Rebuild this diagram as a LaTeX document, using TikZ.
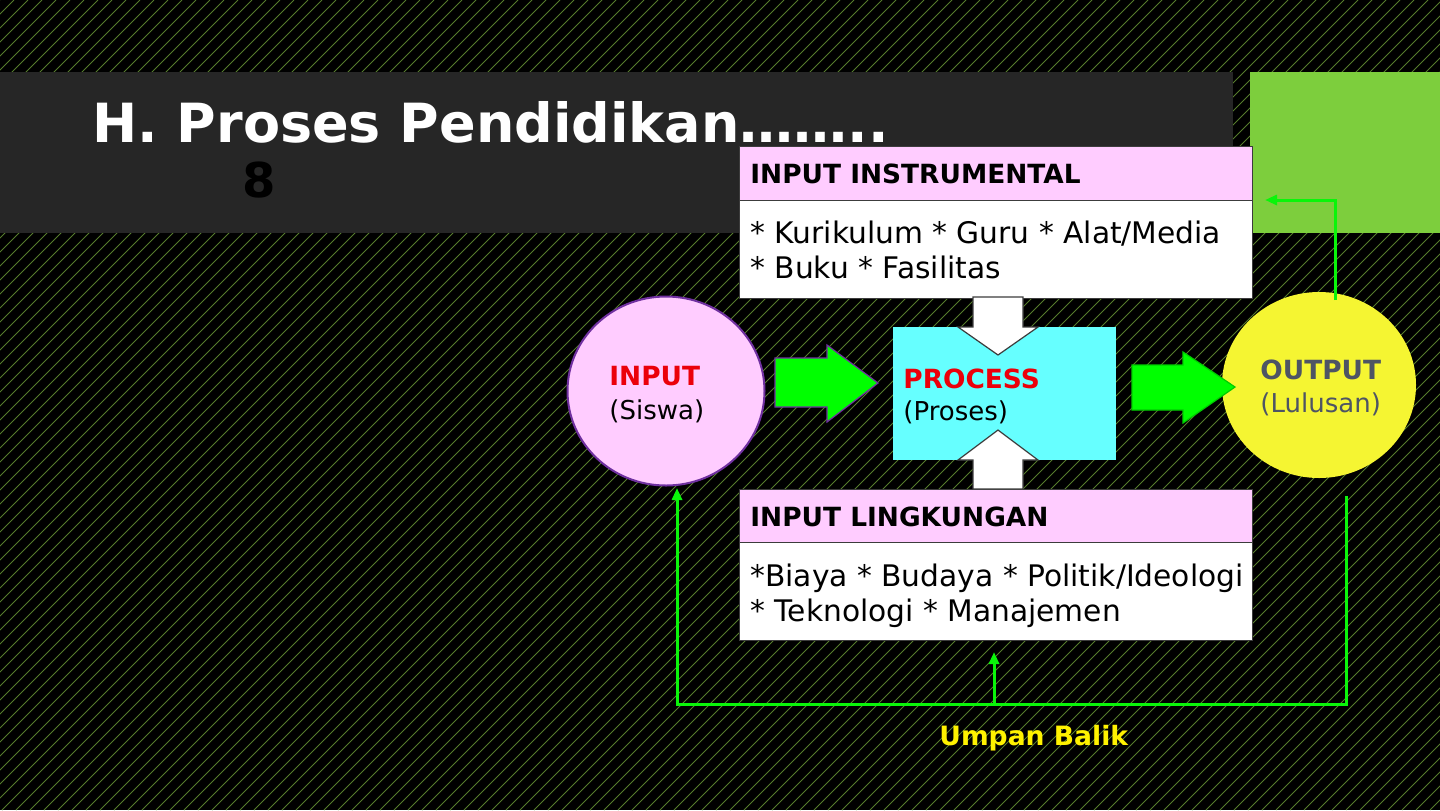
\documentclass[tikz,border=0pt]{standalone}
\usepackage{fontspec}
\setmainfont{DejaVu Sans}
\usetikzlibrary{shapes.geometric,arrows.meta}
\definecolor{stripecol}{RGB}{86,124,44}
\definecolor{bandcol}{RGB}{38,38,38}
\definecolor{greenrect}{RGB}{125,206,61}
\definecolor{pinkhdr}{RGB}{255,204,255}
\definecolor{cyanbox}{RGB}{102,255,255}
\definecolor{yellowc}{RGB}{245,245,50}
\definecolor{purpleline}{RGB}{112,48,160}
\definecolor{brightgreen}{RGB}{0,255,0}
\definecolor{fbgreen}{RGB}{10,245,10}
\definecolor{outgray}{RGB}{78,84,100}
\definecolor{boxline}{RGB}{60,60,60}
\definecolor{redtxt}{RGB}{235,0,10}
\tikzset{
  stripe/.style={draw=stripecol, line width=0.45pt},
  hdrbox/.style={draw=boxline, fill=pinkhdr, line width=0.6pt, inner sep=0pt, anchor=north west, minimum width=256.5pt, minimum height=27pt},
  bodybox/.style={draw=boxline, fill=white, line width=0.6pt, inner sep=0pt, anchor=north west, minimum width=256.5pt, minimum height=49pt},
  hdrtext/.style={anchor=base west, inner sep=0pt, font=\bfseries\fontsize{13.2}{15}\selectfont, text=black},
  bodytext/.style={anchor=base west, inner sep=0pt, font=\fontsize{14.85}{17.5}\selectfont, text=black},
  circtitle/.style={anchor=base west, inner sep=0pt, font=\bfseries\fontsize{13.2}{15}\selectfont},
  circsub/.style={anchor=base west, inner sep=0pt, font=\fontsize{13}{15}\selectfont},
  blockarrow/.style={fill=brightgreen, line width=0.6pt},
  whitearrow/.style={fill=white, draw=boxline, line width=0.6pt},
  fb/.style={draw=fbgreen, line width=1.5pt, -{Triangle[length=6pt,width=5pt]}},
  fbline/.style={draw=fbgreen, line width=1.5pt}
}
\begin{document}
\begin{tikzpicture}[x=0.5pt,y=-0.5pt]
\useasboundingbox (0,0) rectangle (1440,810);
\fill[black] (0,0) rectangle (1440,810);
\begin{scope}
\clip (0,0) rectangle (1440,810);
\foreach \c in {0,14,...,2270} \draw[stripe] (\c,0) -- (\c-810,810);
\end{scope}
% title band
\fill[bandcol] (0,72) rectangle (1233,233);
\fill[greenrect] (1250,72) rectangle (1440,233);
\node[anchor=base west, inner sep=0pt, text=white, font=\bfseries\fontsize{27}{30}\selectfont] (title) at (92,142) {H. Proses Pendidikan……..};
\node[anchor=base west, inner sep=0pt, text=black, font=\bfseries\fontsize{24}{28}\selectfont] (eight) at (242,197) {8};

% input instrumental
\node[hdrbox] (insthdr) at (739,146) {};
\node[bodybox] (instbody) at (739,200) {};
\node[hdrtext] (insthdrtxt) at (750,183) {INPUT INSTRUMENTAL};
\node[bodytext] (instl1) at (750,243) {* Kurikulum * Guru * Alat/Media};
\node[bodytext] (instl2) at (750,278) {* Buku * Fasilitas};

% input lingkungan
\node[hdrbox] (linghdr) at (739,489) {};
\node[bodybox] (lingbody) at (739,542) {};
\node[hdrtext] (linghdrtxt) at (750,526) {INPUT LINGKUNGAN};
\node[bodytext] (lingl1) at (750,586) {*Biaya * Budaya * Politik/Ideologi};
\node[bodytext] (lingl2) at (750,621) {* Teknologi * Manajemen};

% process box
\node[fill=cyanbox, inner sep=0pt, anchor=north west, minimum width=111.5pt, minimum height=66.5pt] (process) at (893,327) {};
\path[whitearrow] (973,297) -- (1023,297) -- (1023,327) -- (1038,327) -- (998,355) -- (958,327) -- (973,327) -- cycle;
\path[whitearrow] (973,489) -- (1023,489) -- (1023,460) -- (1038,460) -- (998,430) -- (958,460) -- (973,460) -- cycle;
\node[circtitle, text=redtxt] (proctitle) at (903,388) {PROCESS};
\node[circsub, text=black] (procsub) at (903,420) {(Proses)};

% input circle
\node[ellipse, draw=purpleline, line width=1pt, fill=pinkhdr, minimum width=98.5pt, minimum height=94.5pt, inner sep=0pt] (input) at (666,391) {};
\node[circtitle, text=redtxt] (inputtitle) at (609,385) {INPUT};
\node[circsub, text=black] (inputsub) at (609,419) {(Siswa)};

% output circle
\node[ellipse, fill=yellowc, minimum width=97pt, minimum height=93pt, inner sep=0pt] (output) at (1319,385) {};
\node[circtitle, text=outgray] (outtitle) at (1260,379) {OUTPUT};
\node[circsub, text=outgray] (outsub) at (1260,412) {(Lulusan)};

% green block arrows
\path[blockarrow, draw=purpleline] (775,358) -- (827,358) -- (827,345) -- (878,383) -- (827,422) -- (827,407) -- (775,407) -- cycle;
\path[blockarrow, draw=brightgreen!80!black] (1132,365) -- (1183,365) -- (1183,352) -- (1235,387) -- (1183,423) -- (1183,410) -- (1132,410) -- cycle;

% feedback connectors
\coordinate (outtop) at (1335,300);
\coordinate (insttip) at (1265,200);
\coordinate (outbot) at (1346,496);
\coordinate (inbot) at (677,488);
\coordinate (lingtip) at (994,652);
\coordinate (fbjoin) at (994,704);
\draw[fb] (outtop) |- (insttip);
\draw[fb] (outbot) -- (1346,704) -| (inbot);
\draw[fb] (fbjoin) -- (lingtip);

\node[anchor=base west, inner sep=0pt, text=yellow, font=\bfseries\fontsize{13.3}{15}\selectfont] (umpan) at (939,745) {Umpan Balik};
\end{tikzpicture}
\end{document}
